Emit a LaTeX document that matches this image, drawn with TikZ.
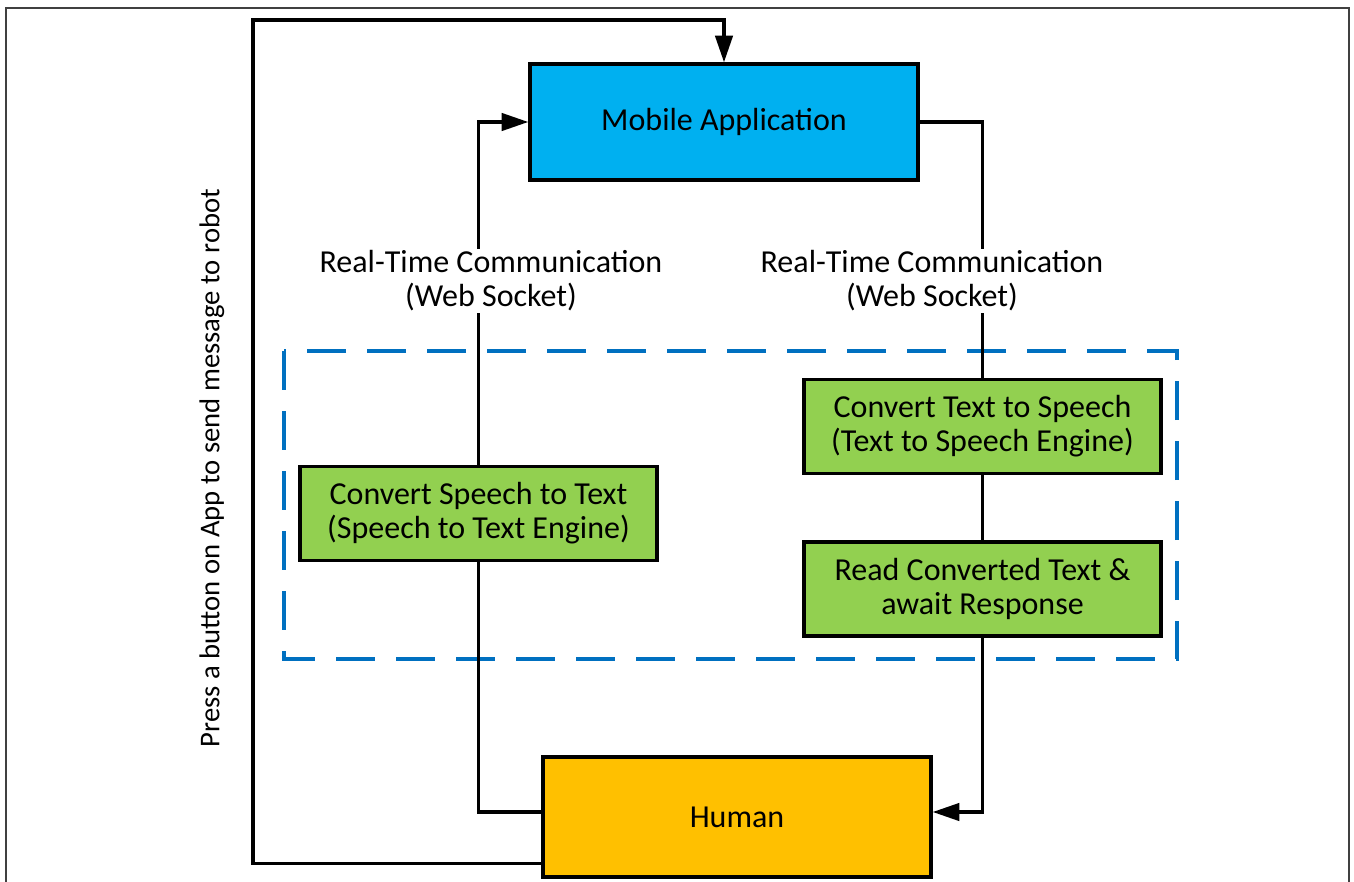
\documentclass[tikz,border=0pt]{standalone}
\usepackage{fontspec}
\setmainfont{Carlito}
\usetikzlibrary{positioning,calc,arrows.meta}
\definecolor{appblue}{HTML}{00B0F0}
\definecolor{stepgreen}{HTML}{92D050}
\definecolor{humanorange}{HTML}{FFC000}
\definecolor{groupblue}{HTML}{0070C0}
\tikzstyle{block} = [rectangle, draw, line width=2.5pt, align=center, font=\fontsize{24}{25.5}\selectfont]
\tikzstyle{flow} = [draw, line width=2.5pt, >={Triangle[length=20pt,width=13pt]}]

\begin{document}
\begin{tikzpicture}[x=0.75pt,y=-0.75pt]
        \tikzstyle{engine} = [block, fill=stepgreen, minimum width=267.75pt, minimum height=70.5pt]
        \tikzstyle{channel} = [fill=white, align=center, inner sep=1pt, font=\fontsize{24}{25.5}\selectfont]
        \useasboundingbox (0,0) rectangle (1354,882);

        % page frame
        \draw[line width=1.1pt, black!75] (6,890) -- (6,8) -- (1349,8) -- (1349,890);

        % dashed group
        \draw[groupblue, line width=2.7pt, dash pattern=on 29pt off 16pt] (284,351) rectangle (1177,659);

        \node[block, fill=appblue, minimum width=291pt, minimum height=87pt] (mobile) at (724,122) {Mobile Application};
        \node[block, fill=humanorange, minimum width=291pt, minimum height=90pt] (human) at (737,817) {Human};

        \node[engine] (stt) at (478.5,513.5) {Convert Speech to Text\\(Speech to Text Engine)};
        \node[engine] (tts) at (982.5,426.5) {Convert Text to Speech\\(Text to Speech Engine)};
        \node[engine] (readtext) at (982.5,589) {Read Converted Text \&\\await Response};

        % left channel
        \draw[flow] ($(human.west)+(0,-5)$) -| (stt.south);
        \draw[flow,->] (stt.north) |- (mobile.west);
        % right channel
        \draw[flow] (mobile.east) -| (tts.north);
        \draw[flow] (tts.south) -- (readtext.north);
        \draw[flow,->] (readtext.south) |- ($(human.east)+(0,-5)$);

        \node[channel] (rtcleft) at (491,281) {Real-Time Communication\\(Web Socket)};
        \node[channel] (rtcright) at (932,281) {Real-Time Communication\\(Web Socket)};

        % button loop
        \coordinate (loopout) at ($(human.south west)+(0,-15)$);
        \draw[flow,->] (loopout) -| (253,20) -| (mobile.north);
        \node[rotate=90, font=\fontsize{21.5}{25}\selectfont] (presslabel) at (212,468) {Press a button on App to send message to robot};
\end{tikzpicture}
\end{document}
